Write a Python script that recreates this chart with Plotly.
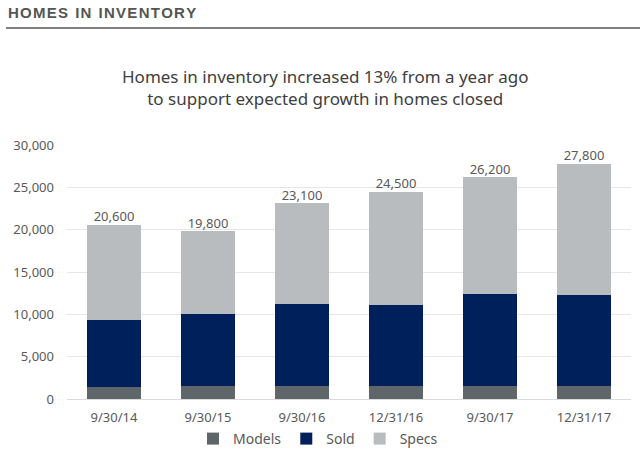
import plotly.graph_objects as go

categories = ["9/30/14", "9/30/15", "9/30/16", "12/31/16", "9/30/17", "12/31/17"]
models = [1400, 1500, 1500, 1500, 1500, 1500]
sold = [7900, 8500, 9700, 9600, 10900, 10800]
specs = [11300, 9800, 11900, 13400, 13800, 15500]
totals = [20600, 19800, 23100, 24500, 26200, 27800]
tick_vals = [0, 5000, 10000, 15000, 20000, 25000, 30000]
tick_text = ["0", "5,000", "10,000", "15,000", "20,000", "25,000", "30,000"]

W, H = 640, 459
L, R, T, B = 67, 9, 145, 60
pw = W - L - R
ph = H - T - B

def px(x):
    return (x - L) / pw

def py(y):
    return (H - B - y) / ph

font_family = "Noto Sans, Open Sans, sans-serif"
text_col = "#595959"

hs = "\u200a"
header = (" " + "\u2009").join(hs.join(w) for w in ["HOMES", "IN", "INVENTORY"])

fig = go.Figure()
fig.add_trace(go.Bar(name="Models", x=categories, y=models, marker_color="#5f6669", marker_line_width=0))
fig.add_trace(go.Bar(name="Sold", x=categories, y=sold, marker_color="#00205b", marker_line_width=0))
fig.add_trace(go.Bar(name="Specs", x=categories, y=specs, marker_color="#b9bcbe", marker_line_width=0))
fig.add_trace(go.Scatter(x=categories, y=totals, mode="text",
                         text=[f"{v:,}" for v in totals], textposition="top center",
                         textfont=dict(size=13, color=text_col, family=font_family),
                         showlegend=False, hoverinfo="skip"))

fig.update_layout(
    width=W, height=H,
    margin=dict(l=L, r=R, t=T, b=B, autoexpand=False),
    barmode="stack", bargap=0.43,
    plot_bgcolor="white", paper_bgcolor="white",
    font=dict(family=font_family, color=text_col, size=13),
    legend=dict(orientation="h", xref="container", yref="container",
                x=318 / W, xanchor="center", y=1 - 439 / H, yanchor="middle",
                font=dict(size=14, color=text_col), traceorder="normal",
                itemwidth=30, tracegroupgap=0),
    xaxis=dict(showgrid=False, showline=True, linecolor="#d9d9d9", linewidth=1,
               tickfont=dict(size=13, color=text_col), ticks="", ticklabelstandoff=6),
    yaxis=dict(range=[0, 30000], tickvals=tick_vals, ticktext=tick_text,
               showgrid=True, gridcolor="#e6e6e6", gridwidth=1, zeroline=False,
               tickfont=dict(size=13, color=text_col), ticks="", ticklabelstandoff=12),
    annotations=[
        dict(text=header, xref="paper", yref="paper",
             x=px(6), y=py(12), xanchor="left", yanchor="middle", showarrow=False,
             font=dict(family="Liberation Sans, Arial, sans-serif", size=15, color="#555555", weight=900)),
        dict(text="Homes in inventory increased 13% from a year ago<br>to support expected growth in homes closed",
             xref="paper", yref="paper", x=px(325), y=py(87), xanchor="center", yanchor="middle",
             showarrow=False, font=dict(size=17, color="#404040")),
    ],
    shapes=[dict(type="line", xref="paper", yref="paper", x0=px(6), x1=px(640), y0=py(28), y1=py(28),
                 line=dict(color="#555555", width=1.5))],
)

fig.write_html("out.html", config={"displayModeBar": False},
               post_script="document.body.style.margin='0';")
